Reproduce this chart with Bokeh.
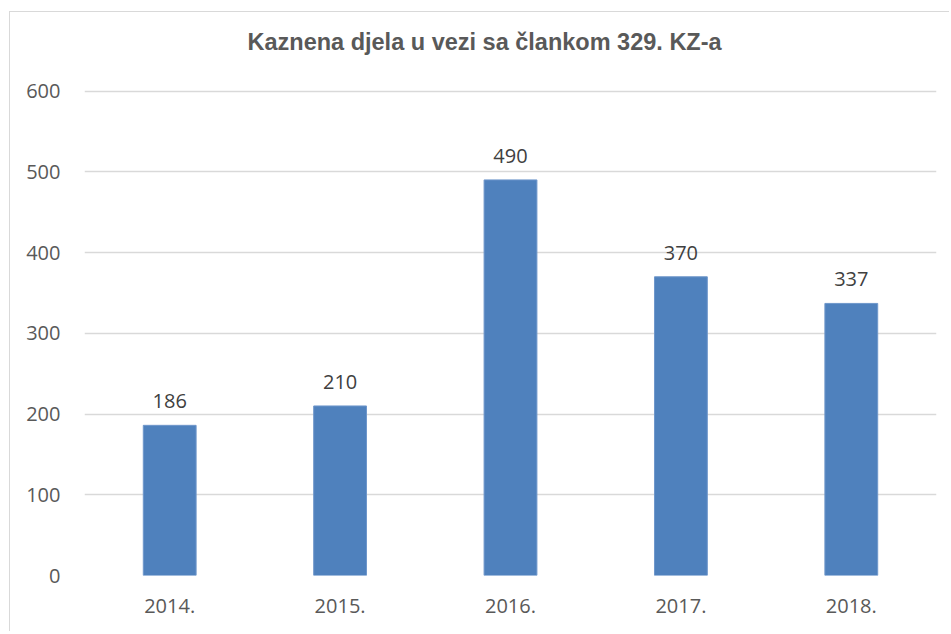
from bokeh.plotting import figure
from bokeh.models import ColumnDataSource, Range1d, FixedTicker, Title
from bokeh.core.properties import value
from bokeh.embed import file_html
from bokeh.resources import INLINE

years = ["2014.", "2015.", "2016.", "2017.", "2018."]
counts = [186, 210, 490, 370, 337]
y_ticks = [0, 100, 200, 300, 400, 500, 600]
title_text = "Kaznena djela u vezi sa člankom 329. KZ-a"

src = ColumnDataSource(dict(x=years, y=counts, t=[str(c) for c in counts]))

p = figure(x_range=years, y_range=Range1d(0, 602), width=940, height=620,
           output_backend="svg", toolbar_location=None,
           min_border_left=74, min_border_right=14, min_border_top=77, min_border_bottom=57)
p.styles = {"border-left": "1px solid #d9d9d9", "border-top": "1px solid #d9d9d9",
            "margin-top": "11px", "margin-left": "9px"}
p.outline_line_color = None
p.background_fill_color = "white"
p.border_fill_color = "white"

p.vbar(x="x", top="y", width=0.31, source=src, fill_color="#4F81BD", line_color="#6F97CB", line_width=1)
p.text(x="x", y="y", text="t", source=src, text_align="center", text_baseline="bottom",
       y_offset=-17, text_font=value("Open Sans"), text_font_size="20px", text_color="#404040")

spacer = Title(text=" ", text_font_size="1px", standoff=32)
p.add_layout(spacer, "above")
main_title = Title(text=title_text, text_font="Liberation Sans", text_font_style="bold",
                   text_font_size="23.5px", text_color="#595959", align="left",
                   offset=163, standoff=0)
p.add_layout(main_title, "above")

p.xgrid.grid_line_color = None
p.ygrid.grid_line_color = "#d9d9d9"
p.ygrid.grid_line_width = 1.5
p.yaxis.ticker = FixedTicker(ticks=y_ticks)

for ax in (p.xaxis[0], p.yaxis[0]):
    ax.axis_line_color = None
    ax.major_tick_line_color = None
    ax.minor_tick_line_color = None
    ax.major_label_text_font = "Open Sans"
    ax.major_label_text_font_size = "20px"
    ax.major_label_text_color = "#595959"
p.yaxis.major_label_standoff = 18
p.xaxis.major_label_standoff = 17

open("out.html", "w").write(file_html(p, INLINE))
